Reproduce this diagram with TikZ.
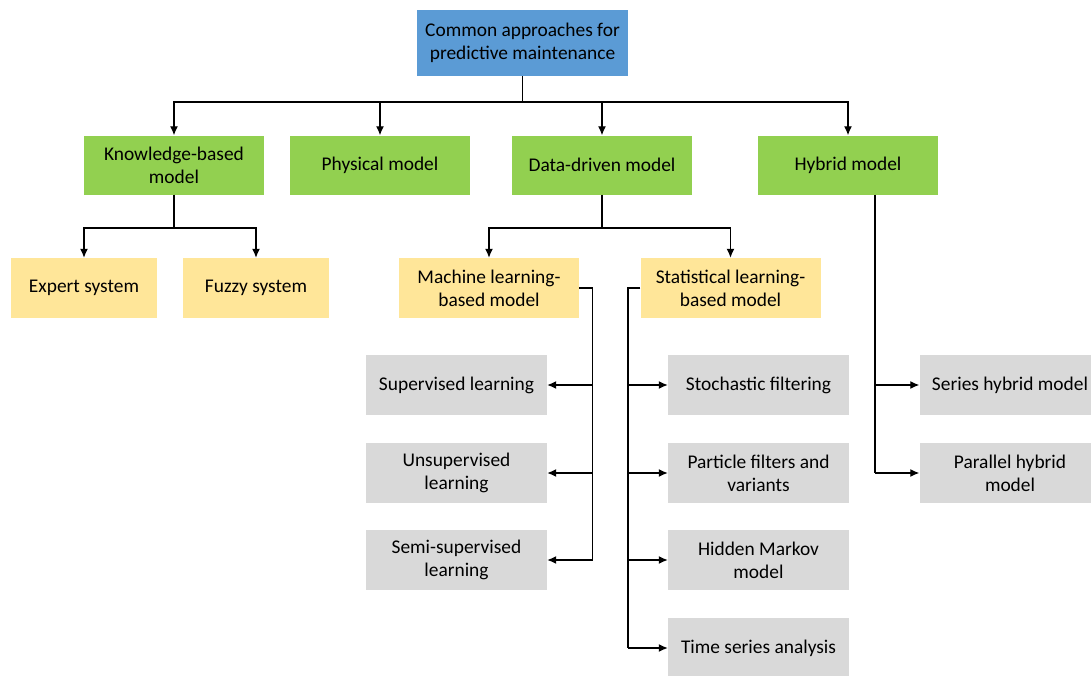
\documentclass[tikz,border=0pt]{standalone}
\usepackage{fontspec}
\setmainfont{Carlito}
\usetikzlibrary{arrows.meta,positioning}
\definecolor{rootblue}{HTML}{5B9BD5}
\definecolor{lvlgreen}{HTML}{92D050}
\definecolor{lvlyellow}{HTML}{FFE699}
\definecolor{lvlgray}{HTML}{D9D9D9}
\tikzset{
  box/.style={inner sep=0pt,minimum width=180pt,minimum height=59pt,align=center,
    font=\fontsize{19.4}{23.3}\selectfont},
  rootbox/.style={box,fill=rootblue,minimum width=211pt,minimum height=66pt},
  greenbox/.style={box,fill=lvlgreen},
  yellowbox/.style={box,fill=lvlyellow,minimum height=60pt},
  smallbox/.style={yellowbox,minimum width=146pt},
  graybox/.style={box,fill=lvlgray,minimum width=181pt,minimum height=60pt},
  link/.style={line width=1.3pt},
  arr/.style={link,-{Latex[length=9pt,width=8pt]}},
}

\begin{document}
\begin{tikzpicture}[x=1pt,y=-1pt]
\useasboundingbox (0,0) rectangle (1091,675);
% top
\node (root) [rootbox] at (522.5,43) {Common approaches for\\predictive maintenance};
% first level
\node (know) [greenbox] at (174,165) {Knowledge-based\\model};
\node (phys) [greenbox] at (380,165) {Physical model};
\node (data) [greenbox] at (602,165) {Data-driven model};
\node (hyb)  [greenbox] at (848,165) {Hybrid model};
% second level
\node (expert) [smallbox] at (84,288) {Expert system};
\node (fuzzy)  [smallbox] at (256,288) {Fuzzy system};
\node (ml)     [yellowbox] at (489,288) {Machine learning-\\based model};
\node (stat)   [yellowbox] at (730.5,288) {Statistical learning-\\based model};
% third level
\node (sup)   [graybox] at (456.5,385) {Supervised learning};
\node (unsup) [graybox] at (456.5,473) {Unsupervised\\learning};
\node (semi)  [graybox] at (456.5,560) {Semi-supervised\\learning};
\node (stoch) [graybox] at (758.5,385) {Stochastic filtering};
\node (part)  [graybox] at (758.5,473) {Particle filters and\\variants};
\node (hmm)   [graybox] at (758.5,560) {Hidden Markov\\model};
\node (tsa)   [graybox] at (758.5,648) {Time series analysis};
\node (ser)   [graybox] at (1010,385) {Series hybrid model};
\node (par)   [graybox] at (1010,473) {Parallel hybrid\\model};
%
\coordinate (bus) at (522.5,102);
\draw[link] (root) -- (bus);
\foreach \n in {know,phys,data,hyb}
  \draw[arr] (bus) -| (\n);
%
\coordinate (kbus) at (174,228);
\draw[link] (know) -- (kbus);
\draw[arr] (kbus) -| (expert);
\draw[arr] (kbus) -| (fuzzy);
%
\coordinate (dbus) at (602,228);
\draw[link] (data) -- (dbus);
\draw[arr] (dbus) -| (ml);
\draw[arr] (dbus) -| (stat);
%
\coordinate (mlend) at (592.5,560);
\draw[link] (ml.east) -| (mlend);
\foreach \n in {sup,unsup,semi}
  \draw[arr] (mlend |- \n) -- (\n);
%
\coordinate (stend) at (628,648);
\draw[link] (stat.west) -| (stend);
\foreach \n in {stoch,part,hmm,tsa}
  \draw[arr] (stend |- \n) -- (\n);
%
\coordinate (hend) at (875,473);
\draw[link] (hend |- hyb.south) -- (hend);
\foreach \n in {ser,par}
  \draw[arr] (hend |- \n) -- (\n);
\end{tikzpicture}
\end{document}
